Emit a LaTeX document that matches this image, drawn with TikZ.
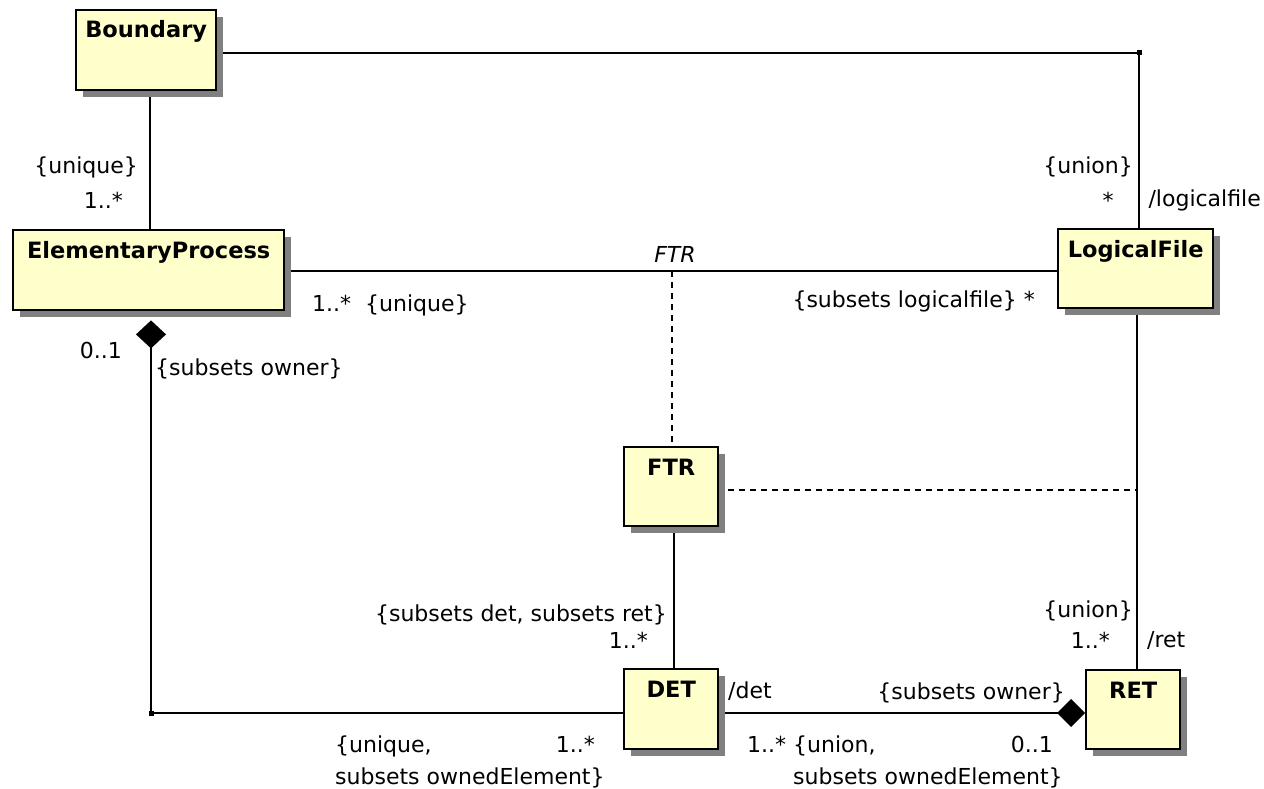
\documentclass[tikz,border=0pt]{standalone}
\usepackage{fontspec}
\setmainfont{DejaVu Sans}
\usetikzlibrary{arrows.meta,shadows}
\definecolor{classfill}{RGB}{255,255,204}
\definecolor{shadowgray}{RGB}{128,128,128}
\pgfdeclarelayer{paper}
\pgfdeclarelayer{connectors}
\pgfsetlayers{paper,connectors,main}

\begin{document}
\begin{tikzpicture}[x=1pt,y=-1pt,
  cls/.style={draw=black, line width=2.4pt, fill=classfill, anchor=north west,
    inner sep=0pt,
    drop shadow={shadow xshift=7pt, shadow yshift=-7pt, fill=shadowgray, opacity=1}},
  clsname/.style={anchor=base, inner sep=0pt,
    font=\fontsize{22.5}{27}\selectfont\bfseries},
  lbl/.style={inner sep=0pt, font=\fontsize{22}{26}\selectfont},
  assoc/.style={line width=2pt, draw=black},
  ftrlink/.style={line width=2pt, draw=black, dash pattern=on 6pt off 5pt},
]
\begin{pgfonlayer}{paper}
  \fill[white] (0,0) rectangle (1264,789);
\end{pgfonlayer}
\useasboundingbox (0,0) rectangle (1264,789);

% classes
\node[cls, minimum width=140pt, minimum height=80pt] (bnd) at (75,9) {};
\node[clsname] (bnd-name) at ([yshift=-29pt]bnd.north) {Boundary};

\node[cls, minimum width=271pt, minimum height=80pt] (ep) at (12,229) {};
\node[clsname] (ep-name) at ([yshift=-29pt]ep.north) {ElementaryProcess};

\node[cls, minimum width=155pt, minimum height=79pt] (lf) at (1057,228) {};
\node[clsname] (lf-name) at ([yshift=-29pt]lf.north) {LogicalFile};

\node[cls, minimum width=94pt, minimum height=79pt] (ftr) at (623,446) {};
\node[clsname] (ftr-name) at ([yshift=-29pt]ftr.north) {FTR};

\node[cls, minimum width=94pt, minimum height=80pt] (det) at (623,668) {};
\node[clsname] (det-name) at ([yshift=-29pt]det.north) {DET};

\node[cls, minimum width=94pt, minimum height=79pt] (ret) at (1085,669) {};
\node[clsname] (ret-name) at ([yshift=-29pt]ret.north) {RET};

% routing points
\coordinate (cTR) at (1139,53);
\coordinate (vB) at (150,0);
\coordinate (hEP) at (0,271);
\coordinate (cFTR) at (672,271);
\coordinate (vLR) at (1137,0);
\coordinate (hFL) at (0,490);
\coordinate (vFD) at (674,0);
\coordinate (vEP) at (151,0);
\coordinate (hDET) at (0,713);
\coordinate (cBL) at (151,713);
\coordinate (epD) at ([yshift=-9pt]ep.south);
\coordinate (ftrE) at ([xshift=9pt]ftr.east);

% connectors
\begin{pgfonlayer}{connectors}
  \draw[assoc] (cTR -| bnd.east) -- (cTR) -- (cTR |- lf.north);
  \draw[assoc] (vB |- bnd.south) -- (vB |- ep.north);
  \draw[assoc] (hEP -| ep.east) -- (hEP -| lf.west);
  \draw[ftrlink] (cFTR) -- (cFTR |- ftr.north);
  \draw[assoc] (vLR |- lf.south) -- (vLR |- ret.north);
  \draw[ftrlink] (hFL -| ftrE) -- (hFL -| vLR);
  \draw[assoc] (vFD |- ftr.south) -- (vFD |- det.north);
  \draw[assoc, {Diamond[length=28pt,width=30pt]}-] (epD -| vEP) |- (hDET -| det.west);
  \draw[assoc, -{Diamond[length=28pt,width=28pt]}] (hDET -| det.east) -- (hDET -| ret.west);
  \fill (cTR) +(-2.5,-2.5) rectangle +(2.5,2.5);
  \fill (cBL) +(-2.5,-2.5) rectangle +(2.5,2.5);
\end{pgfonlayer}

% association ends
\node[lbl, anchor=base east] (l-bnd-c) at (138,173) {\{unique\}};
\node[lbl, anchor=base east] (l-bnd-m) at (123,208) {1..*};

\node[lbl, anchor=base east] (l-lf-c) at (1133,173) {\{union\}};
\node[lbl, anchor=base] (l-lf-m) at (1108,208) {*};
\node[lbl, anchor=base east] (l-lf-r) at (1261,207) {/logicalfile};

\node[lbl, anchor=base west] (l-ep-m) at (312,311) {1..*};
\node[lbl, anchor=base west] (l-ep-c) at (365,311) {\{unique\}};
\node[lbl, anchor=base east] (l-lf2) at (1035,307) {\{subsets logicalfile\} *};
\node[lbl, anchor=base, font=\fontsize{22}{26}\selectfont\itshape] (l-ftr) at (675,262) {FTR};

\node[lbl, anchor=base east] (l-own-m) at (122,358) {0..1};
\node[lbl, anchor=base west] (l-own-c) at (155,375) {\{subsets owner\}};

\node[lbl, anchor=base east] (l-ftr-c) at (667,621) {\{subsets det, subsets ret\}};
\node[lbl, anchor=base east] (l-ftr-m) at (648,648) {1..*};
\node[lbl, anchor=base west] (l-det-r) at (728,698) {/det};

\node[lbl, anchor=base west] (l-ep2-c1) at (335,752) {\{unique,};
\node[lbl, anchor=base west] (l-ep2-c2) at (335,784) {subsets ownedElement\}};
\node[lbl, anchor=base east] (l-ep2-m) at (595,752) {1..*};

\node[lbl, anchor=base east] (l-ret-c) at (1133,617) {\{union\}};
\node[lbl, anchor=base east] (l-ret-m) at (1110,648) {1..*};
\node[lbl, anchor=base west] (l-ret-r) at (1147,647) {/ret};

\node[lbl, anchor=base east] (l-own2-c) at (1065,699) {\{subsets owner\}};
\node[lbl, anchor=base west] (l-det2-m) at (747,752) {1..*};
\node[lbl, anchor=base west] (l-det2-c1) at (793,752) {\{union,};
\node[lbl, anchor=base west] (l-det2-c2) at (793,784) {subsets ownedElement\}};
\node[lbl, anchor=base east] (l-own2-m) at (1053,752) {0..1};
\end{tikzpicture}
\end{document}
